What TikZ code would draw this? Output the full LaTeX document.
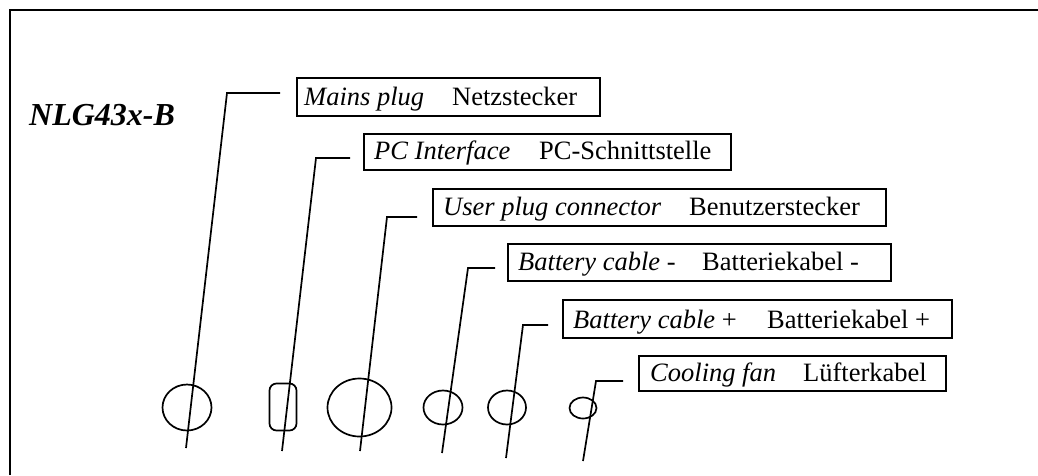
\documentclass[tikz,border=0pt]{standalone}
\usepackage{fontspec}
\setmainfont{Liberation Serif}
\usetikzlibrary{shapes.geometric}
\tikzset{
  lbox/.style={draw, line width=1.7pt, rectangle, inner sep=0pt, anchor=north west},
  txt/.style={anchor=base west, inner sep=0pt, font=\fontsize{26.5}{30}\selectfont},
  plug/.style={draw, ellipse, inner sep=0pt, line width=1.7pt},
  lead/.style={line width=1.7pt},
}
\begin{document}
\begin{tikzpicture}[x=1pt,y=-1pt]
\useasboundingbox (0,0) rectangle (1038,475);
% frame
\draw[line width=1.8pt] (10,475) -- (10,10) -- (1038,10);
% title
\node[anchor=base west, inner sep=0pt, font=\fontsize{32}{36}\selectfont\bfseries\itshape] (title) at (29,125) {NLG43x-B};

% label boxes
\node[lbox, minimum width=303, minimum height=38] (bmains) at (296,77) {};
\node[lbox, minimum width=367, minimum height=36] (bpc) at (363,133) {};
\node[lbox, minimum width=453, minimum height=37] (buser) at (432,188) {};
\node[lbox, minimum width=383, minimum height=37] (bbm) at (507,243) {};
\node[lbox, minimum width=389, minimum height=38] (bbp) at (562,299) {};
\node[lbox, minimum width=307, minimum height=35] (bfan) at (638,355) {};

% label texts
\node[txt] (t1a) at (304,105) {\textit{Mains plug}};
\node[txt] (t1b) at (452,105) {Netzstecker};
\node[txt] (t2a) at (374,159) {\textit{PC Interface}};
\node[txt] (t2b) at (539,159) {PC-Schnittstelle};
\node[txt] (t3a) at (443,215) {\textit{User plug connector}};
\node[txt] (t3b) at (689,215) {Benutzerstecker};
\node[txt] (t4a) at (518,270) {\textit{Battery cable} -};
\node[txt] (t4b) at (702,270) {Batteriekabel -};
\node[txt] (t5a) at (573,328) {\textit{Battery cable} +};
\node[txt] (t5b) at (767,328) {Batteriekabel +};
\node[txt] (t6a) at (650,381) {\textit{Cooling fan}};
\node[txt] (t6b) at (803,381) {Lüfterkabel};

% plugs
\node[plug, minimum width=49, minimum height=46] (p1) at (187,407.5) {};
\node[draw, rectangle, rounded corners=7pt, line width=1.7pt, inner sep=0pt, minimum width=27, minimum height=47] (p2) at (283,407) {};
\node[plug, minimum width=64, minimum height=58] (p3) at (359.5,407.5) {};
\node[plug, minimum width=39, minimum height=34] (p4) at (443,407.5) {};
\node[plug, minimum width=38, minimum height=34] (p5) at (507,407.5) {};
\node[plug, minimum width=27, minimum height=21] (p6) at (583,408) {};

% leader coordinates
\coordinate (a1) at (280,93);  \coordinate (e1) at (227,93);  \coordinate (f1) at (186,448);
\coordinate (a2) at (350,158); \coordinate (e2) at (316,158); \coordinate (f2) at (282,451);
\coordinate (a3) at (417,217); \coordinate (e3) at (387,217); \coordinate (f3) at (360,451);
\coordinate (a4) at (495,268); \coordinate (e4) at (468,268); \coordinate (f4) at (442,453);
\coordinate (a5) at (548,325); \coordinate (e5) at (523,325); \coordinate (f5) at (506,458);
\coordinate (a6) at (623,381); \coordinate (e6) at (596,381); \coordinate (f6) at (583,461);

\draw[lead] (a1) -- (e1) -- (f1);
\draw[lead] (a2) -- (e2) -- (f2);
\draw[lead] (a3) -- (e3) -- (f3);
\draw[lead] (a4) -- (e4) -- (f4);
\draw[lead] (a5) -- (e5) -- (f5);
\draw[lead] (a6) -- (e6) -- (f6);
\end{tikzpicture}
\end{document}
